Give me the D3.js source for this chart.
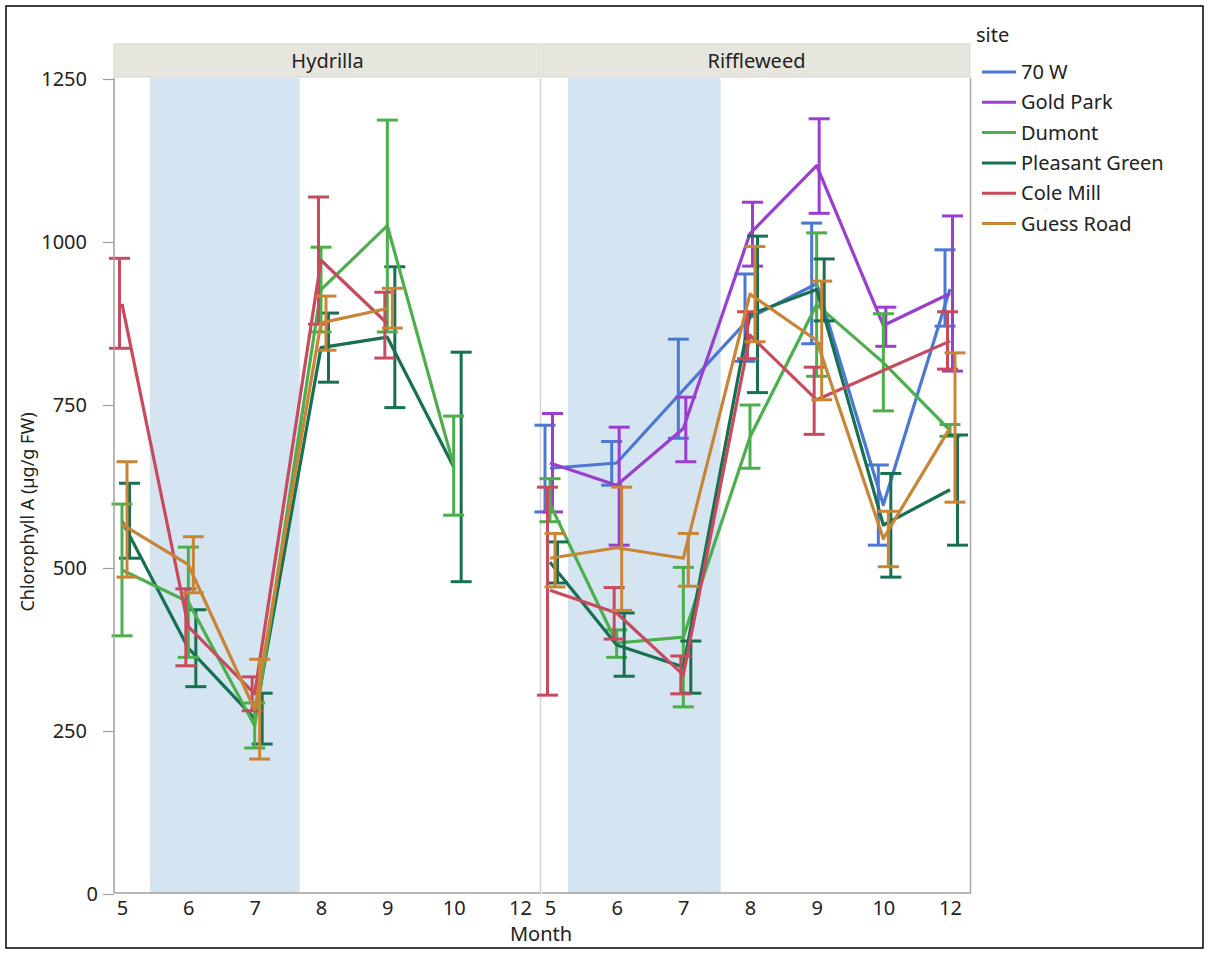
<!DOCTYPE html>
<html><head><meta charset="utf-8">
<script src="https://cdn.jsdelivr.net/npm/d3@7"></script>
<style>
body{margin:0;background:#fff;}
text{font-family:"Noto Sans",sans-serif;fill:#222;}
</style>
</head><body>
<svg id="chart" width="1209" height="956"></svg>
<script>
// ---------- data ----------
const months = ["5","6","7","8","9","10","12"];
const yTicks = [0, 250, 500, 750, 1000, 1250];
const panelNames = ["Hydrilla", "Riffleweed"];
const sites = ["70 W", "Gold Park", "Dumont", "Pleasant Green", "Cole Mill", "Guess Road"];
const siteColors = ["#4a78d2", "#9a3ecf", "#4cae4c", "#17704f", "#c84a5e", "#c98536"];
const dodgeOrder = ["70 W", "Cole Mill", "Dumont", "Gold Park", "Guess Road", "Pleasant Green"];
// shaded period (in month units) for each panel
const shadeStart = [5.42, 5.27];
const shadeEnd = [7.68, 7.56];

// Hydrilla
const hyd_ColeMill_mean = [905, 410, 307, 972, 875, null, null];
const hyd_ColeMill_lo   = [837, 350, 281, 874, 822, null, null];
const hyd_ColeMill_hi   = [975, 468, 333, 1069, 923, null, null];
const hyd_Dumont_mean = [497, 448, 258, 927, 1025, 657, null];
const hyd_Dumont_lo   = [396, 363, 224, 862, 862, 581, null];
const hyd_Dumont_hi   = [598, 532, 293, 992, 1187, 733, null];
const hyd_GuessRoad_mean = [567, 505, 283, 876, 898, null, null];
const hyd_GuessRoad_lo   = [486, 462, 207, 834, 868, null, null];
const hyd_GuessRoad_hi   = [663, 548, 360, 917, 929, null, null];
const hyd_PleasantGreen_mean = [572, 377, 269, 838, 854, 655, null];
const hyd_PleasantGreen_lo   = [515, 318, 230, 785, 746, 479, null];
const hyd_PleasantGreen_hi   = [630, 436, 308, 891, 962, 831, null];

// Riffleweed
const rif_70W_mean = [653, 661, 773, 884, 936, 597, 928];
const rif_70W_lo   = [586, 627, 699, 817, 844, 535, 871];
const rif_70W_hi   = [719, 694, 851, 951, 1029, 658, 988];
const rif_GoldPark_mean = [661, 627, 714, 1013, 1117, 872, 921];
const rif_GoldPark_lo   = [586, 535, 663, 963, 1044, 840, 802];
const rif_GoldPark_hi   = [737, 716, 762, 1061, 1189, 900, 1040];
const rif_Dumont_mean = [598, 385, 394, 701, 904, 815, 711];
const rif_Dumont_lo   = [571, 363, 287, 653, 794, 741, 702];
const rif_Dumont_hi   = [637, 405, 501, 750, 1014, 890, 720];
const rif_PleasantGreen_mean = [509, 382, 348, 889, 927, 566, 620];
const rif_PleasantGreen_lo   = [477, 334, 308, 769, 879, 486, 535];
const rif_PleasantGreen_hi   = [540, 431, 388, 1009, 974, 645, 704];
const rif_ColeMill_mean = [466, 431, 336, 857, 758, null, 848];
const rif_ColeMill_lo   = [305, 391, 307, 821, 705, null, 805];
const rif_ColeMill_hi   = [624, 470, 365, 893, 808, null, 893];
const rif_GuessRoad_mean = [515, 531, 515, 920, 849, 545, 715];
const rif_GuessRoad_lo   = [471, 435, 472, 847, 758, 502, 601];
const rif_GuessRoad_hi   = [553, 624, 553, 993, 940, 587, 830];

const panelSeries = [
  [
    {site: "Pleasant Green", mean: hyd_PleasantGreen_mean, lo: hyd_PleasantGreen_lo, hi: hyd_PleasantGreen_hi},
    {site: "Dumont", mean: hyd_Dumont_mean, lo: hyd_Dumont_lo, hi: hyd_Dumont_hi},
    {site: "Cole Mill", mean: hyd_ColeMill_mean, lo: hyd_ColeMill_lo, hi: hyd_ColeMill_hi},
    {site: "Guess Road", mean: hyd_GuessRoad_mean, lo: hyd_GuessRoad_lo, hi: hyd_GuessRoad_hi}
  ],
  [
    {site: "70 W", mean: rif_70W_mean, lo: rif_70W_lo, hi: rif_70W_hi},
    {site: "Gold Park", mean: rif_GoldPark_mean, lo: rif_GoldPark_lo, hi: rif_GoldPark_hi},
    {site: "Dumont", mean: rif_Dumont_mean, lo: rif_Dumont_lo, hi: rif_Dumont_hi},
    {site: "Pleasant Green", mean: rif_PleasantGreen_mean, lo: rif_PleasantGreen_lo, hi: rif_PleasantGreen_hi},
    {site: "Cole Mill", mean: rif_ColeMill_mean, lo: rif_ColeMill_lo, hi: rif_ColeMill_hi},
    {site: "Guess Road", mean: rif_GuessRoad_mean, lo: rif_GuessRoad_lo, hi: rif_GuessRoad_hi}
  ]
];

// ---------- layout ----------
const svg = d3.select("#chart");
const plotTop = 78, plotBottom = 893;
const panelX = [114, 542];
const panelW = [427, 429];
const padL = 8, padR = 21;
const stripTop = 44, stripH = 33;
const capHalf = 10.5;
const dodgeStep = 2.5;
const fontSize = 20;
const lineW = 3.2, barW = 3;

const color = d3.scaleOrdinal().domain(sites).range(siteColors);
const y = d3.scaleLinear().domain([0, 1250]).range([894, 79]);

// outer frame
svg.append("rect").attr("x", 6).attr("y", 6).attr("width", 1197).attr("height", 942)
  .attr("fill", "#fff").attr("stroke", "#000").attr("stroke-width", 1.5);

panelNames.forEach((name, p) => {
  const x0 = panelX[p], w = panelW[p];
  const x = d3.scalePoint().domain(months).range([x0 + padL, x0 + w - padR]);
  const step = x.step();
  const monthToX = m => {
    const base = Math.floor(m);
    return x(String(base)) + (m - base) * step;
  };
  const g = svg.append("g");

  // shaded period
  g.append("rect")
    .attr("x", monthToX(shadeStart[p]))
    .attr("y", plotTop)
    .attr("width", monthToX(shadeEnd[p]) - monthToX(shadeStart[p]))
    .attr("height", plotBottom - plotTop)
    .attr("fill", "#d5e4f1");

  // strip
  g.append("rect").attr("x", x0).attr("y", stripTop).attr("width", w - 1).attr("height", stripH)
    .attr("fill", "#e7e6de").attr("stroke", "#d6d5cc").attr("stroke-width", 1);
  g.append("text").attr("x", x0 + w / 2).attr("y", stripTop + stripH / 2)
    .attr("dy", "0.35em").attr("text-anchor", "middle").attr("font-size", fontSize).text(name);

  // right border of panel
  g.append("line").attr("x1", x0 + w - 0.5).attr("x2", x0 + w - 0.5).attr("y1", plotTop).attr("y2", plotBottom)
    .attr("stroke", p === 0 ? "#d4d4d4" : "#a9a9a9").attr("stroke-width", 1.5);

  // x axis
  const xAxis = d3.axisBottom(x).tickSize(0).tickPadding(8).tickSizeOuter(0);
  const xa = g.append("g").attr("transform", `translate(0,${plotBottom})`).call(xAxis);
  xa.select(".domain").attr("stroke", "#a0a0a0").attr("stroke-width", 1.5)
    .attr("d", `M${x0},0H${x0 + w}`);
  xa.selectAll("text").attr("font-size", fontSize).attr("fill", "#222")
    .style("font-family", '"Noto Sans",sans-serif');

  // series
  const line = d3.line().x(d => x(d.m)).y(d => y(d.v));
  const nSites = dodgeOrder.length;
  panelSeries[p].forEach(s => {
    const c = color(s.site);
    const pts = months.map((m, i) => ({m, v: s.mean[i], lo: s.lo[i], hi: s.hi[i]}))
      .filter(d => d.v != null);
    const k = dodgeOrder.indexOf(s.site);
    const off = (k - (nSites - 1) / 2) * dodgeStep + 1.25;
    const sg = g.append("g");
    sg.selectAll("line.eb").data(pts.filter(d => d.lo != null)).join("line")
      .attr("x1", d => x(d.m) + off).attr("x2", d => x(d.m) + off)
      .attr("y1", d => y(d.lo)).attr("y2", d => y(d.hi))
      .attr("stroke", c).attr("stroke-width", barW);
    ["lo", "hi"].forEach(key => {
      sg.selectAll("line.cap" + key).data(pts.filter(d => d[key] != null)).join("line")
        .attr("x1", d => x(d.m) + off - capHalf).attr("x2", d => x(d.m) + off + capHalf)
        .attr("y1", d => y(d[key])).attr("y2", d => y(d[key]))
        .attr("stroke", c).attr("stroke-width", barW);
    });
    sg.append("path").datum(pts).attr("d", line)
      .attr("fill", "none").attr("stroke", c).attr("stroke-width", lineW)
      .attr("stroke-linejoin", "round");
  });
});

// y axis
const ya = svg.append("g").attr("transform", `translate(${panelX[0]},0)`)
  .call(d3.axisLeft(y).tickValues(yTicks).tickFormat(d3.format("d"))
    .tickSize(11).tickPadding(17).tickSizeOuter(0));
ya.select(".domain").attr("stroke", "#a0a0a0").attr("stroke-width", 1.5)
  .attr("d", `M0,${plotTop}V${plotBottom}`);
ya.selectAll(".tick line").attr("stroke", "#a0a0a0").attr("stroke-width", 1.2);
ya.selectAll("text").attr("font-size", fontSize).attr("fill", "#222")
  .style("font-family", '"Noto Sans",sans-serif')
  .attr("x", d => d === 0 ? -16 : -27);

// axis titles
svg.append("text").attr("transform", `translate(28,512) rotate(-90)`)
  .attr("text-anchor", "middle").attr("dy", "0.35em").attr("font-size", 18)
  .text("Chlorophyll A (µg/g FW)");
svg.append("text").attr("x", 541).attr("y", 934).attr("dy", "0.35em")
  .attr("text-anchor", "middle").attr("font-size", fontSize).text("Month");

// legend
const lg = svg.append("g");
lg.append("text").attr("x", 976).attr("y", 35).attr("dy", "0.35em").attr("font-size", fontSize).text("site");
sites.forEach((s, i) => {
  const cy = 72 + i * 30.3;
  lg.append("line").attr("x1", 982).attr("x2", 1016).attr("y1", cy).attr("y2", cy)
    .attr("stroke", color(s)).attr("stroke-width", 3);
  lg.append("text").attr("x", 1021).attr("y", cy).attr("dy", "0.35em")
    .attr("font-size", fontSize).text(s);
});
</script>
</body></html>
